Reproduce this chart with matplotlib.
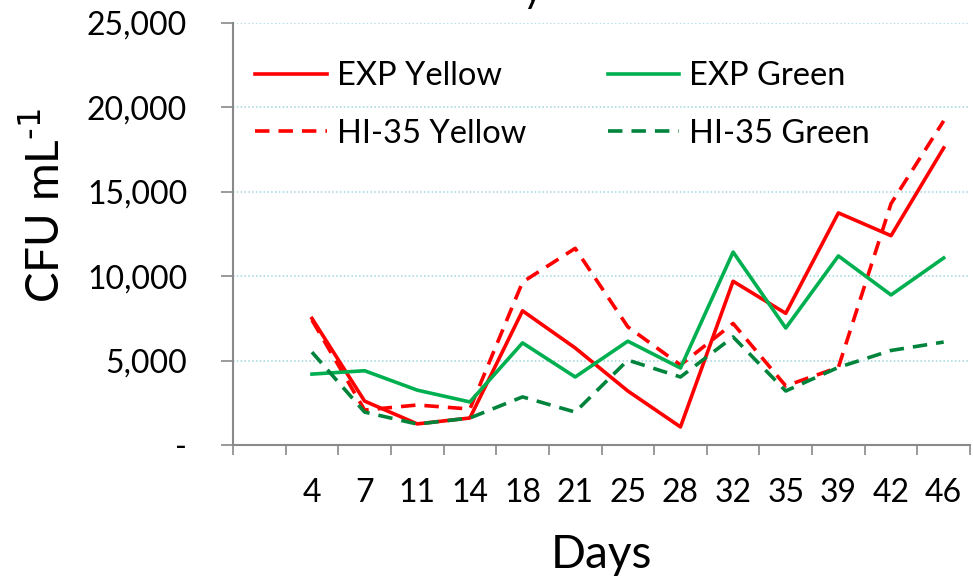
import matplotlib
matplotlib.use("Agg")
import matplotlib.pyplot as plt
from matplotlib.ticker import FixedLocator, FuncFormatter

plt.rcParams['font.family'] = ['Lato', 'DejaVu Sans']

days = ['4', '7', '11', '14', '18', '21', '25', '28', '32', '35', '39', '42', '46']
exp_yellow = [7500, 2600, 1250, 1600, 7950, 5750, 3200, 1070, 9700, 7800, 13750, 12400, 17600]
exp_green = [4200, 4400, 3250, 2550, 6050, 4030, 6150, 4560, 11430, 6930, 11200, 8890, 11080]
hi35_yellow = [7400, 2070, 2370, 2130, 9650, 11650, 7000, 4740, 7200, 3500, 4600, 14300, 19200]
hi35_green = [5500, 1950, 1240, 1600, 2850, 1950, 5030, 4030, 6400, 3200, 4600, 5600, 6100]

red = '#FF0000'
green = '#00B050'
dkgreen = '#00843C'
grey = '#898989'

fig = plt.figure(figsize=(9.73, 5.83), dpi=100)
ax = fig.add_axes([233 / 973, 1 - 445 / 583, (970 - 233) / 973, 422 / 583])

# first category on the axis is empty, data starts in the second slot
x = [i + 1.5 for i in range(len(days))]
dash = (0, (4, 2.5))
lw = 2.6
ax.plot(x, exp_yellow, color=red, lw=lw, label='EXP Yellow')
ax.plot(x, hi35_yellow, color=red, lw=lw, linestyle=dash, label='HI-35 Yellow')
ax.plot(x, exp_green, color=green, lw=lw, label='EXP Green')
ax.plot(x, hi35_green, color=dkgreen, lw=lw, linestyle=dash, label='HI-35 Green')

ax.set_xlim(0, len(days) + 1)
ax.set_ylim(0, 25000)

ax.xaxis.set_major_locator(FixedLocator(range(len(days) + 2)))
ax.xaxis.set_major_formatter(FuncFormatter(lambda v, p: ''))
ax.xaxis.set_minor_locator(FixedLocator(x))
ax.set_xticklabels(days, minor=True)
ax.tick_params(axis='x', which='major', length=7.5, width=1.2, color=grey, direction='out')
ax.tick_params(axis='x', which='minor', length=0, pad=24, labelsize=23)

ax.set_yticks(range(0, 25001, 5000))
ax.yaxis.set_major_formatter(FuncFormatter(lambda v, p: '-' if v == 0 else f'{int(v):,}'))
ax.tick_params(axis='y', length=9, width=1.2, color=grey, pad=24, labelsize=23)

for s in ['top', 'right']:
    ax.spines[s].set_visible(False)
for s in ['left', 'bottom']:
    ax.spines[s].set_color(grey)
    ax.spines[s].set_linewidth(1.5)

ax.yaxis.grid(True, color='#9fd6dd', linestyle=(0, (1, 1.5)), linewidth=1.1)
ax.set_axisbelow(True)

leg = ax.legend(ncol=2, loc='upper left', bbox_to_anchor=(22 / 737, (445 - 61) / 422),
                frameon=False, borderpad=0, borderaxespad=0,
                fontsize=23.5, handlelength=2.2, handletextpad=0.3, columnspacing=2.5,
                labelspacing=0.85)

ax.set_xlabel('Days', fontsize=33)
ax.xaxis.set_label_coords(0.5, (445 - 555) / 422)
ax.xaxis.label.set_va('center')
fig.text(45 / 973, 1 - 206 / 583, 'CFU mL$^{\\text{-1}}$', rotation=90, fontsize=33,
         ha='center', va='center')

# title clipped by the top edge of the picture
fig.text(533 / 973, 1 - 2 / 583, 'y', fontsize=28, ha='center', va='baseline')

fig.savefig('out.png', dpi=100)
